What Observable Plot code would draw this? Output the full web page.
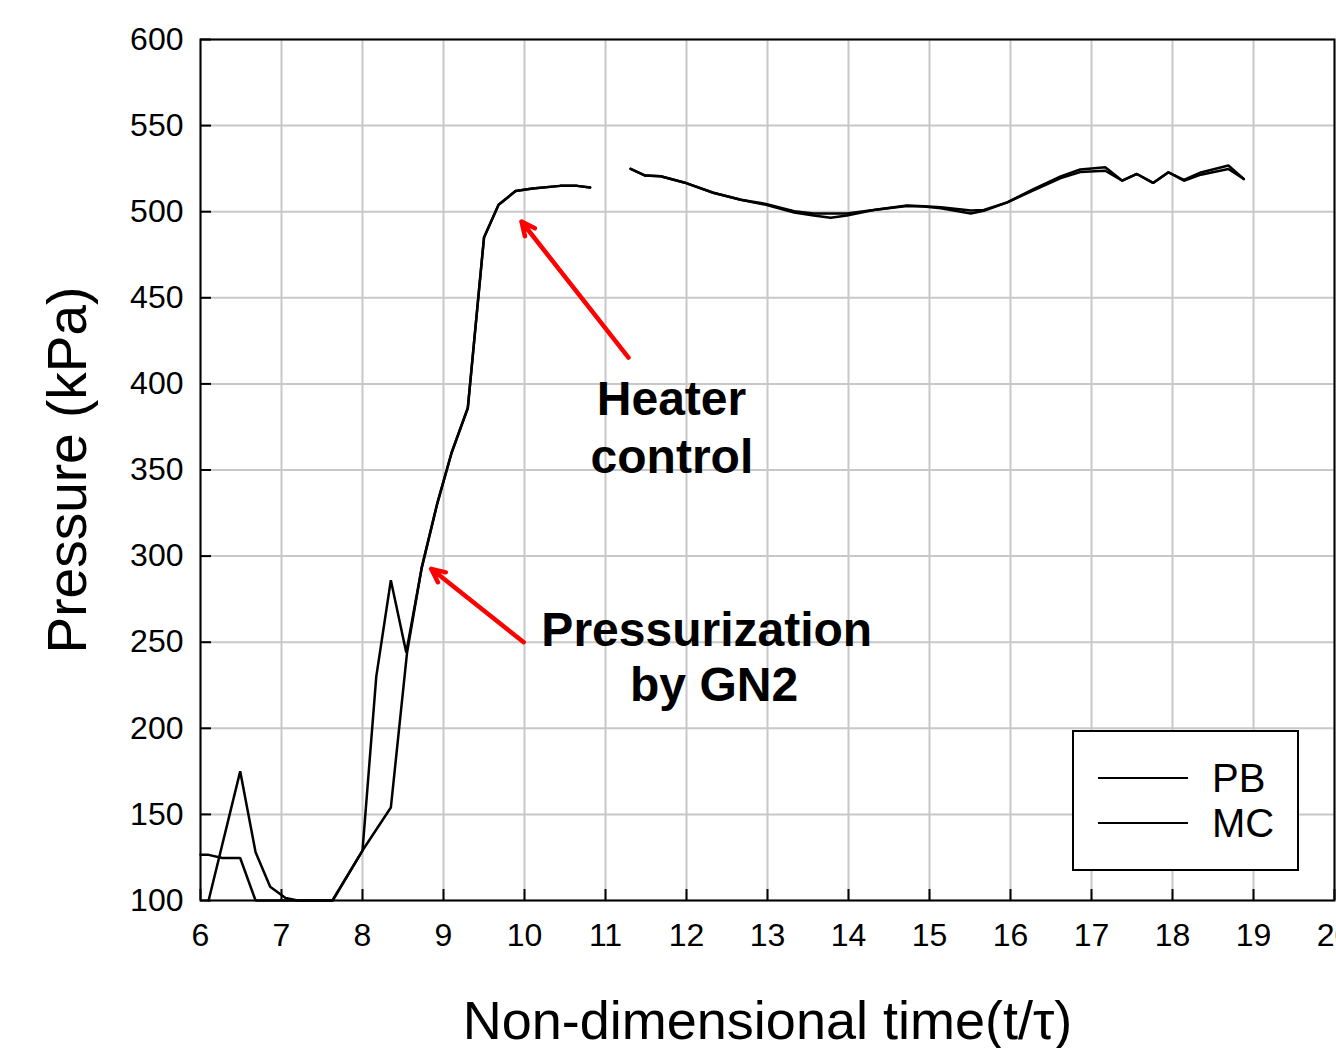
<!DOCTYPE html>
<html>
<head>
<meta charset="utf-8">
<script src="https://cdn.jsdelivr.net/npm/d3@7"></script>
<script src="https://cdn.jsdelivr.net/npm/@observablehq/plot@0.6"></script>
<style>
  html, body { margin: 0; padding: 0; background: #fff; overflow: hidden; }
  #chart { position: relative; width: 1336px; height: 1048px; }
</style>
</head>
<body>
<div id="chart"></div>
<script>
// ---- data ----
const seriesNames = ["PB", "MC"];

const tPB = [6.10, 6.49, 6.68, 6.86, 7.05, 7.20, 7.63, 8.00, 8.17, 8.35, 8.54,
  8.73, 8.92, 9.10, 9.30, 9.50, 9.68, 9.89, 10.10, 10.44, 10.65, 10.81, 11.05,
  11.31, 11.49, 11.68, 11.97, 12.33, 12.67, 12.98, 13.33, 13.57, 13.78, 13.98, 14.31, 14.72, 14.93,
  15.14, 15.51, 15.67, 15.96, 16.29, 16.62, 16.86, 17.17, 17.38, 17.56, 17.76, 17.95, 18.14, 18.35, 18.69, 18.88];
const pPB = [100, 175, 128, 108, 101.5, 100, 100, 129, 230, 286, 244,
  293, 330, 360, 386, 485, 504, 512, 513.5, 515, 515, 514, NaN,
  524.9, 521, 520.6, 517, 511, 506.9, 504.5, 500.3, 499, 499, 499, 501, 503.6, 503.2,
  502.6, 500.7, 501, 505.4, 513.2, 520.5, 524.5, 525.8, 518, 521.9, 516.7, 522.9, 518.5, 522.8, 526.8, 519];

const tMC = [6.00, 6.10, 6.27, 6.49, 6.68, 7.20, 7.63, 8.00, 8.35, 8.55,
  8.73, 8.92, 9.10, 9.30, 9.50, 9.68, 9.89, 10.10, 10.44, 10.65, 10.81, 11.05,
  11.31, 11.49, 11.68, 11.97, 12.33, 12.67, 12.98, 13.33, 13.57, 13.78, 13.98, 14.31, 14.72, 14.93,
  15.14, 15.51, 15.67, 15.96, 16.29, 16.62, 16.86, 17.17, 17.38, 17.56, 17.76, 17.95, 18.14, 18.35, 18.69, 18.88];
const pMC = [126.5, 126.5, 124.7, 124.7, 100, 100, 100, 129, 154, 244,
  293, 330, 360, 386, 485, 504, 512, 513.5, 515, 515, 514, NaN,
  524.9, 521, 520.6, 517, 511, 506.9, 504, 499.5, 497.8, 496.5, 497.8, 501, 503.3, 503,
  502, 499, 500.5, 505.4, 512.5, 519.5, 523, 523.8, 518, 521.9, 516.7, 522.9, 518, 521.5, 524.8, 519];

const xTicks = [6, 7, 8, 9, 10, 11, 12, 13, 14, 15, 16, 17, 18, 19, 20];
const yTicks = [100, 150, 200, 250, 300, 350, 400, 450, 500, 550, 600];

const xLabel = "Non-dimensional time(t/τ)";
const yLabel = "Pressure (kPa)";

const annotationLines = ["Heater", "control", "Pressurization", "by GN2"];
const annotationX = [11.815, 11.82, 12.25, 12.34];
const annotationY = [390.9, 357.3, 256.8, 224.9];

const arrowX1 = [11.284, 9.99];
const arrowY1 = [415.3, 250.0];
const arrowX2 = [9.963, 8.848];
const arrowY2 = [494.3, 292.6];

// ---- tables built from the arrays ----
const rowsPB = tPB.map((t, i) => ({t, p: pPB[i], s: "PB"}));
const rowsMC = tMC.map((t, i) => ({t, p: pMC[i], s: "MC"}));
const annotations = annotationLines.map((text, i) => ({text, x: annotationX[i], y: annotationY[i]}));
const arrows = arrowX1.map((x1, i) => ({x1, y1: arrowY1[i], x2: arrowX2[i], y2: arrowY2[i]}));

const FONT = "'Liberation Sans', Arial, Helvetica, sans-serif";
const xDom = [6, 20], yDom = [100, 600];

const chart = Plot.plot({
  width: 1336,
  height: 1048,
  marginLeft: 200,
  marginRight: 2,
  marginTop: 39,
  marginBottom: 148,
  style: {fontFamily: FONT, background: "#fff", overflow: "visible"},
  x: {domain: xDom, ticks: xTicks},
  y: {domain: yDom, ticks: yTicks},
  marks: [
    Plot.ruleX(xTicks, {stroke: "#c8c8c8", strokeWidth: 2}),
    Plot.ruleY(yTicks, {stroke: "#c8c8c8", strokeWidth: 2}),
    // inward tick marks
    Plot.ruleX(xTicks, {y1: yDom[0], y2: yDom[0] + 6.4, stroke: "#000", strokeWidth: 2}),
    Plot.ruleY(yTicks, {x1: xDom[0], x2: xDom[0] + 0.136, stroke: "#000", strokeWidth: 2}),
    Plot.axisX(xTicks, {tickSize: 0, tickPadding: 23, fontSize: 32, fill: "#000", label: null}),
    Plot.axisY(yTicks, {tickSize: 0, tickPadding: 17, fontSize: 32, fill: "#000", label: null}),
    Plot.line(rowsPB, {x: "t", y: "p", stroke: "#000", strokeWidth: 2.5, strokeLinejoin: "miter"}),
    Plot.line(rowsMC, {x: "t", y: "p", stroke: "#000", strokeWidth: 2.5, strokeLinejoin: "miter"}),
    Plot.arrow(arrows, {x1: "x1", y1: "y1", x2: "x2", y2: "y2", stroke: "#ff0000", strokeWidth: 4.5, headLength: 5, headAngle: 50}),
    Plot.text(annotations, {x: "x", y: "y", text: "text", fontSize: 48, fontWeight: "bold", fill: "#000", textAnchor: "middle"}),
    Plot.frame({stroke: "#000", strokeWidth: 2}),
    Plot.text([xLabel], {frameAnchor: "bottom", lineAnchor: "middle", dy: 121.5, fontSize: 54, fill: "#000", textAnchor: "middle"}),
    Plot.text([yLabel], {frameAnchor: "left", lineAnchor: "middle", dx: -132, rotate: -90, fontSize: 55, fill: "#000", textAnchor: "middle"})
  ]
});

// legend (box with line swatches)
const svg = d3.select(chart);
const lg = svg.append("g").attr("class", "legend").attr("font-family", FONT).attr("text-anchor", "start");
lg.append("rect").attr("x", 1073).attr("y", 731).attr("width", 225).attr("height", 139)
  .attr("fill", "#fff").attr("stroke", "#000").attr("stroke-width", 2);
seriesNames.forEach((name, i) => {
  const cy = 778 + i * 45;
  lg.append("line").attr("x1", 1098).attr("x2", 1188).attr("y1", cy).attr("y2", cy)
    .attr("stroke", "#000").attr("stroke-width", 2);
  lg.append("text").attr("x", 1212).attr("y", cy + 14).attr("font-size", 40).attr("fill", "#000")
    .attr("text-anchor", "start").text(name);
});

document.getElementById("chart").appendChild(chart);
</script>
</body>
</html>
